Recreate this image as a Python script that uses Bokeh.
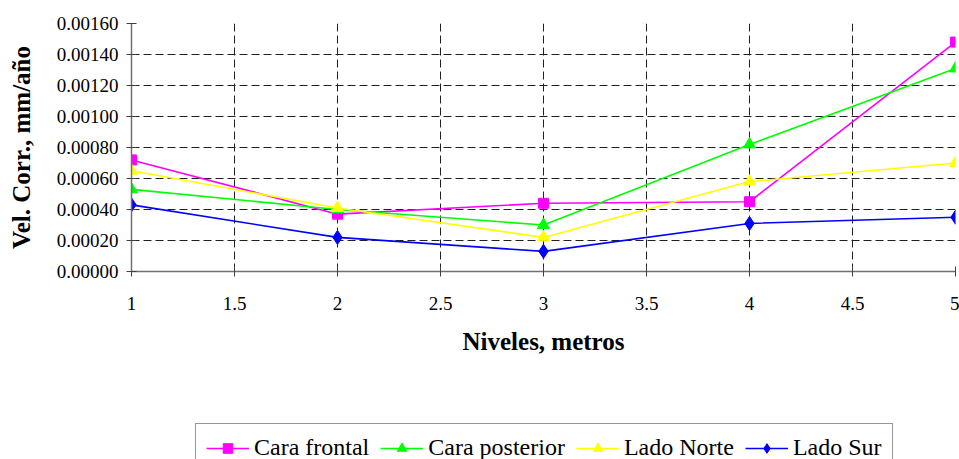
from bokeh.plotting import figure
from bokeh.layouts import column
from bokeh.models import (Range1d, FixedTicker, NumeralTickFormatter, Legend, LegendItem)
from bokeh.embed import file_html
from bokeh.resources import INLINE

niveles = [1, 2, 3, 4, 5]
cara_frontal = [0.00072, 0.00037, 0.00044, 0.00045, 0.00148]
cara_posterior = [0.00053, 0.00040, 0.00030, 0.00082, 0.00131]
lado_norte = [0.00065, 0.00041, 0.00022, 0.00058, 0.00070]
lado_sur = [0.00043, 0.00022, 0.00013, 0.00031, 0.00035]

x_ticks = [1, 1.5, 2, 2.5, 3, 3.5, 4, 4.5, 5]
x_tick_labels = ["1", "1.5", "2", "2.5", "3", "3.5", "4", "4.5", "5"]
y_ticks = [0, 0.0002, 0.0004, 0.0006, 0.0008, 0.0010, 0.0012, 0.0014, 0.0016]

series = [
    ("Cara frontal", cara_frontal, "#FF00FF", "square", 10),
    ("Cara posterior", cara_posterior, "#00FF00", "triangle", 12),
    ("Lado Norte", lado_norte, "#FFFF00", "triangle", 12),
    ("Lado Sur", lado_sur, "#0000FF", "diamond", 14),
]

FONT = "Liberation Serif"

# ---- main chart ----
p = figure(width=959, height=422, output_backend="svg", toolbar_location=None,
           x_range=Range1d(1, 5), y_range=Range1d(0, 0.0016),
           min_border_left=131, min_border_right=4, min_border_top=23, min_border_bottom=151)
p.outline_line_color = None
p.background_fill_color = "white"
p.border_fill_color = "white"

for ax in (p.xaxis[0], p.yaxis[0]):
    ax.axis_line_color = "#707070"
    ax.axis_line_width = 1.5
    ax.major_tick_line_color = "#404040"
    ax.major_tick_in = 5
    ax.major_tick_out = 5
    ax.minor_tick_line_color = None
    ax.major_label_text_font = FONT
    ax.major_label_text_font_size = "19px"
    ax.major_label_text_color = "black"
    ax.axis_label_text_font = FONT
    ax.axis_label_text_font_style = "bold"
    ax.axis_label_text_font_size = "25px"
    ax.axis_label_text_color = "black"

p.xaxis.ticker = FixedTicker(ticks=x_ticks)
p.xaxis.major_label_overrides = {t: l for t, l in zip(x_ticks, x_tick_labels)}
p.xaxis.major_label_standoff = 20
p.xaxis.axis_label = "Niveles, metros"
p.xaxis.axis_label_standoff = 15

p.yaxis.ticker = FixedTicker(ticks=y_ticks)
p.yaxis.formatter = NumeralTickFormatter(format="0.00000")
p.yaxis.major_label_standoff = 8
p.yaxis.axis_label = "Vel. Corr., mm/año"
p.yaxis.axis_label_standoff = 19

for g in (p.xgrid[0], p.ygrid[0]):
    g.grid_line_color = "#202020"
    g.grid_line_dash = "8 4"
    g.grid_line_width = 1

for name, vals, color, marker, size in series:
    p.line(niveles, vals, line_color=color, line_width=1.6)
    p.scatter(niveles, vals, marker=marker, size=size, fill_color=color, line_color=color)

# ---- legend strip (same frame borders left/right as the main chart) ----
q = figure(width=959, height=37, output_backend="svg", toolbar_location=None,
           x_range=Range1d(100, 101), y_range=Range1d(100, 101),
           x_axis_type=None, y_axis_type=None,
           min_border_left=131, min_border_right=4, min_border_top=0, min_border_bottom=0)
q.outline_line_color = None
q.grid.visible = False
q.background_fill_color = "white"
q.border_fill_color = "white"

items = []
for name, vals, color, marker, size in series:
    r_line = q.line(niveles, vals, line_color=color, line_width=1.6)
    r_mark = q.scatter(niveles, vals, marker=marker, size=size, fill_color=color, line_color=color)
    items.append(LegendItem(label=name, renderers=[r_line, r_mark]))

legend = Legend(items=items, orientation="horizontal", location=(64, -13),
                label_text_font=FONT, label_text_font_size="24px",
                label_text_color="black",
                glyph_width=43, glyph_height=24, label_standoff=5, spacing=11,
                padding=10, margin=0,
                border_line_color="#303030", border_line_width=1,
                background_fill_color="white", background_fill_alpha=1)
q.add_layout(legend, "center")

layout = column(p, q, spacing=0)
open("out.html", "w").write(file_html(layout, INLINE))
